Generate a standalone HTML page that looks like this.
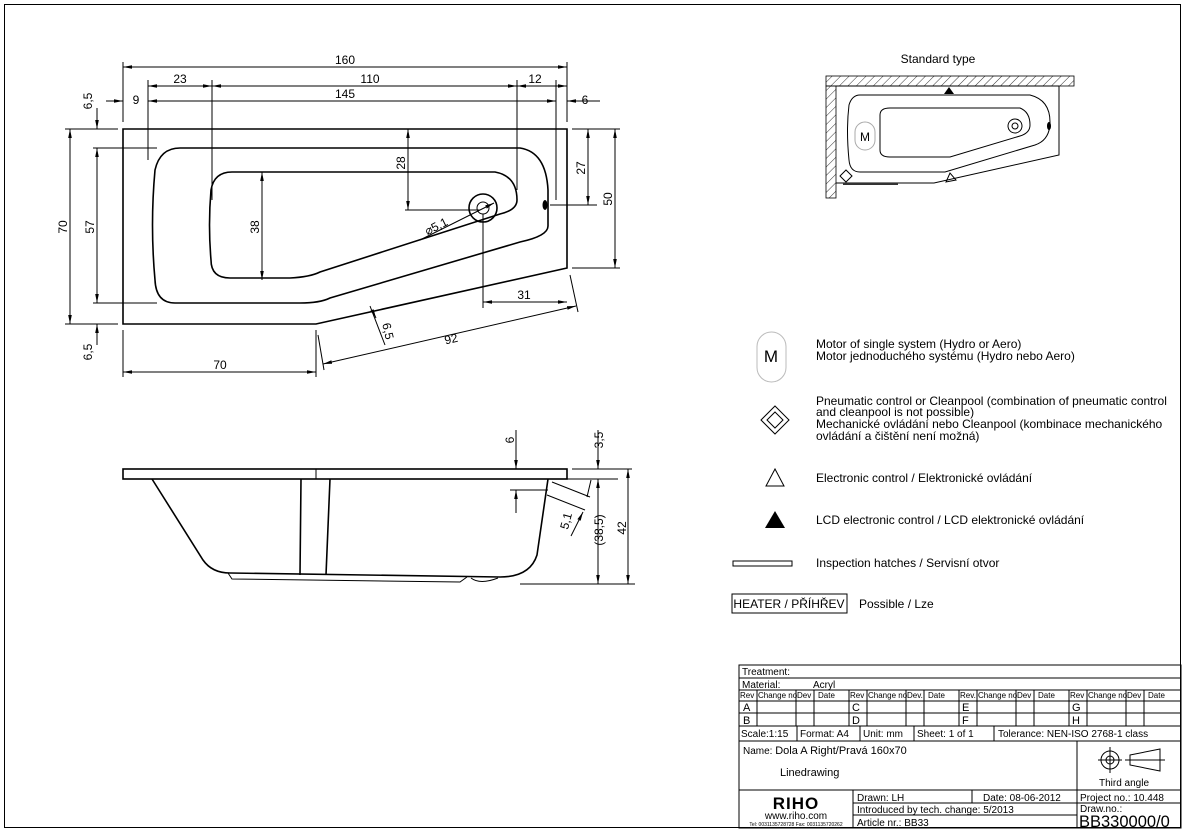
<!DOCTYPE html>
<html><head><meta charset="utf-8"><style>
html,body{margin:0;padding:0;background:#fff}
svg{display:block;font-family:"Liberation Sans",Arial,sans-serif}
.t{font-size:12px;fill:#000}
.k{stroke:#000;fill:none;stroke-width:1}
.b{stroke:#000;fill:none;stroke-width:1.6}
</style></head><body>
<svg width="1185" height="831" viewBox="0 0 1185 831" xmlns="http://www.w3.org/2000/svg">
<defs>
<marker id="a" viewBox="0 0 10 10" refX="10" refY="5" markerWidth="9" markerHeight="9" orient="auto-start-reverse"><path d="M0,3 L10,5 L0,7z" fill="#000"/></marker>
<pattern id="h" width="6" height="6" patternUnits="userSpaceOnUse" patternTransform="rotate(45)"><line x1="0" y1="0" x2="0" y2="6" stroke="#000" stroke-width="0.8"/></pattern>
</defs>
<rect x="4.5" y="4.5" width="1176" height="823" class="k"/>

<!-- TOP VIEW -->
<path class="b" d="M123,129 H567 V268 L316,324 H123 Z"/>
<path class="b" d="M180,148 H520 Q546,152 548,190 V226 Q548,236 520,242 L330,298 Q320,303 300,303 H175 Q156,303 155,280 Q150,225 155,170 Q160,148 180,148 Z"/>
<path class="b" d="M232,172 H495 Q517,176 517,200 Q517,210 500,214 L320,272 Q310,277 290,278 H230 Q211,278 211,260 Q208,225 211,190 Q214,172 232,172 Z"/>
<circle cx="483" cy="208" r="14" class="b"/><circle cx="483" cy="208" r="6" class="k"/>
<ellipse cx="545" cy="205" rx="2.5" ry="5" fill="#000"/>
<g class="k">
<line x1="123" y1="62" x2="123" y2="122"/><line x1="567" y1="62" x2="567" y2="122"/>
<line x1="123" y1="67" x2="567" y2="67" marker-start="url(#a)" marker-end="url(#a)"/>
<line x1="148" y1="80" x2="148" y2="160"/><line x1="212" y1="80" x2="212" y2="200"/><line x1="517" y1="80" x2="517" y2="190"/><line x1="556" y1="80" x2="556" y2="200"/>
<line x1="148" y1="86" x2="212" y2="86" marker-start="url(#a)" marker-end="url(#a)"/>
<line x1="212" y1="86" x2="517" y2="86" marker-start="url(#a)" marker-end="url(#a)"/>
<line x1="517" y1="86" x2="567" y2="86" marker-start="url(#a)" marker-end="url(#a)"/>
<line x1="148" y1="101" x2="556" y2="101" marker-start="url(#a)" marker-end="url(#a)"/>
<line x1="106" y1="101" x2="123" y2="101" marker-end="url(#a)"/><line x1="580" y1="101" x2="567" y2="101" marker-end="url(#a)"/><line x1="567" y1="101" x2="600" y2="101"/>
<line x1="65" y1="129" x2="118" y2="129"/><line x1="65" y1="324" x2="118" y2="324"/>
<line x1="93" y1="148" x2="157" y2="148"/><line x1="93" y1="303" x2="157" y2="303"/>
<line x1="70" y1="129" x2="70" y2="324" marker-start="url(#a)" marker-end="url(#a)"/>
<line x1="97" y1="148" x2="97" y2="303" marker-start="url(#a)" marker-end="url(#a)"/>
<line x1="97" y1="108" x2="97" y2="129" marker-end="url(#a)"/><line x1="97" y1="345" x2="97" y2="324" marker-end="url(#a)"/>
<line x1="408" y1="129" x2="408" y2="210" marker-start="url(#a)" marker-end="url(#a)"/><line x1="405" y1="210" x2="480" y2="210"/>
<line x1="262" y1="172" x2="262" y2="280" marker-start="url(#a)" marker-end="url(#a)"/>
<line x1="572" y1="129" x2="620" y2="129"/><line x1="572" y1="268" x2="620" y2="268"/><line x1="550" y1="205" x2="597" y2="205"/>
<line x1="588" y1="129" x2="588" y2="205" marker-start="url(#a)" marker-end="url(#a)"/>
<line x1="615" y1="129" x2="615" y2="268" marker-start="url(#a)" marker-end="url(#a)"/>
<line x1="483" y1="214" x2="483" y2="308"/>
<line x1="483" y1="302" x2="567" y2="302" marker-start="url(#a)" marker-end="url(#a)"/>
<line x1="123" y1="330" x2="123" y2="377"/><line x1="316" y1="330" x2="316" y2="377"/>
<line x1="123" y1="372" x2="316" y2="372" marker-start="url(#a)" marker-end="url(#a)"/>
<line x1="318" y1="335" x2="324" y2="370"/><line x1="570" y1="275" x2="578" y2="312"/>
<line x1="323" y1="364" x2="576" y2="306" marker-start="url(#a)" marker-end="url(#a)"/>
<line x1="370" y1="306" x2="385" y2="345"/>
<line x1="372" y1="310" x2="376" y2="318" marker-end="url(#a)"/>
<line x1="420" y1="240" x2="494" y2="203" marker-end="url(#a)"/>
</g>
<g class="t" text-anchor="middle">
<text x="345" y="64">160</text><text x="180" y="83">23</text><text x="370" y="83">110</text><text x="535" y="83">12</text>
<text x="345" y="98">145</text><text x="136" y="104">9</text><text x="585" y="104">6</text>
<text x="220" y="369">70</text><text x="524" y="299">31</text>
<text transform="translate(92,101) rotate(-90)">6,5</text><text transform="translate(92,352) rotate(-90)">6,5</text>
<text transform="translate(67,227) rotate(-90)">70</text><text transform="translate(94,227) rotate(-90)">57</text>
<text transform="translate(405,163) rotate(-90)">28</text><text transform="translate(259,227) rotate(-90)">38</text>
<text transform="translate(585,168) rotate(-90)">27</text><text transform="translate(612,199) rotate(-90)">50</text>
<text transform="translate(452,343) rotate(-13)">92</text>
<text transform="translate(384,332) rotate(77)">6,5</text>
<text transform="translate(438,230) rotate(-27)">⌀5,1</text>
</g>

<!-- SIDE VIEW -->
<rect x="123" y="469" width="444" height="10" class="b"/><line x1="316" y1="469" x2="316" y2="479" class="k"/>
<path class="b" d="M152,479 L203,560 Q212,573 230,573 L500,577 Q530,577 537,555 L548,479"/>
<path class="b" d="M301,479 L300,575 M330,479 L326,575"/>
<path class="k" d="M228,573 L232,579 L460,582 L467,577"/>
<path class="k" d="M471,578 Q480,585 498,578"/>
<g class="k">
<line x1="516" y1="430" x2="516" y2="469" marker-end="url(#a)"/><line x1="516" y1="513" x2="516" y2="490" marker-end="url(#a)"/><line x1="510" y1="490" x2="548" y2="490"/>
<line x1="572" y1="469" x2="632" y2="469"/><line x1="560" y1="479" x2="618" y2="479"/><line x1="520" y1="584" x2="635" y2="584"/>
<line x1="598" y1="430" x2="598" y2="469" marker-end="url(#a)"/><line x1="598" y1="479" x2="598" y2="584" marker-start="url(#a)" marker-end="url(#a)"/>
<line x1="628" y1="469" x2="628" y2="584" marker-start="url(#a)" marker-end="url(#a)"/>
<line x1="552" y1="482" x2="590" y2="497"/><line x1="547" y1="495" x2="585" y2="510"/>
<line x1="591" y1="480" x2="587" y2="497" /><line x1="571" y1="536" x2="583" y2="512" marker-end="url(#a)"/>
</g>
<g class="t" text-anchor="middle">
<text transform="translate(514,440) rotate(-90)">6</text><text transform="translate(603,440) rotate(-90)">3,5</text>
<text transform="translate(603,530) rotate(-90)">(38,5)</text><text transform="translate(626,528) rotate(-90)">42</text>
<text transform="translate(570,522) rotate(-75)">5,1</text>
</g>

<!-- STANDARD TYPE -->
<text x="938" y="63" class="t" text-anchor="middle">Standard type</text>
<rect x="826" y="76" width="248" height="10" fill="url(#h)" stroke="#000" stroke-width="0.8"/>
<rect x="826" y="86" width="10" height="112" fill="url(#h)" stroke="#000" stroke-width="0.8"/>
<path class="k" d="M836,86 H1059 V155 L934,183 H836"/>
<path class="k" d="M860,95 H1030 Q1050,100 1050,122 Q1050,140 1035,145 L945,172 H860 Q850,172 849,160 Q846,130 849,105 Q852,95 860,95 Z"/>
<path class="k" d="M890,108 H1020 Q1030,112 1030,125 Q1030,133 1020,136 L950,157 H890 Q880,157 880,150 V115 Q880,108 890,108 Z"/>
<circle cx="1015" cy="126" r="7" class="k"/><circle cx="1015" cy="126" r="3" class="k"/>
<ellipse cx="1049" cy="126" rx="2" ry="4" fill="#000"/>
<rect x="855" y="122" width="20" height="28" rx="10" fill="none" stroke="#aaa"/><text x="865" y="141" class="t" text-anchor="middle">M</text>
<path d="M944,94 L949,87 L954,94z" fill="#000"/>
<path d="M946,182 L950,173 L956,180z" class="k" stroke-width="0.8"/>
<path d="M846,170 L852,176 L846,182 L840,176z" class="k"/>
<line x1="843" y1="184" x2="898" y2="184" stroke="#333" stroke-width="2"/>

<!-- LEGEND -->
<rect x="757" y="332" width="29" height="50" rx="14.5" fill="none" stroke="#bbb"/>
<text x="771" y="362" font-size="17" text-anchor="middle">M</text>
<g class="t"><text x="816" y="348">Motor of single system (Hydro or Aero)</text><text x="816" y="360">Motor jednoduchého systému (Hydro nebo Aero)</text>
<text x="816" y="405">Pneumatic control or Cleanpool (combination of pneumatic control</text>
<text x="816" y="416">and cleanpool is not possible)</text>
<text x="816" y="428">Mechanické ovládání nebo Cleanpool (kombinace mechanického</text>
<text x="816" y="440">ovládání a čištění není možná)</text>
<text x="816" y="482">Electronic control / Elektronické ovládání</text>
<text x="816" y="524">LCD electronic control / LCD elektronické ovládání</text>
<text x="816" y="567">Inspection hatches / Servisní otvor</text>
<text x="859" y="608">Possible / Lze</text></g>
<path class="k" d="M775,406 L789,420 L775,434 L761,420z M775,412 L783,420 L775,428 L767,420z"/>
<path class="k" d="M775,469 L766,486 L784,486z"/>
<path d="M775,511 L765,528 L785,528z" fill="#000"/>
<rect x="733" y="561" width="59" height="5" class="k"/>
<rect x="732" y="594" width="115" height="19" class="k"/><text x="789" y="608" class="t" text-anchor="middle">HEATER / PŘÍHŘEV</text>

<!-- TITLE BLOCK -->
<g class="k">
<rect x="739" y="665" width="442" height="163"/>
<line x1="739" y1="678" x2="1181" y2="678"/><line x1="739" y1="690" x2="1181" y2="690"/>
<line x1="739" y1="701" x2="1181" y2="701"/><line x1="739" y1="713" x2="1181" y2="713"/>
<line x1="739" y1="726" x2="1181" y2="726"/><line x1="739" y1="741" x2="1181" y2="741"/>
<line x1="739" y1="790" x2="1181" y2="790"/>
<line x1="1077" y1="741" x2="1077" y2="828"/>
<line x1="853" y1="790" x2="853" y2="828"/><line x1="853" y1="803" x2="1077" y2="803"/><line x1="853" y1="815" x2="1077" y2="815"/>
<line x1="972" y1="790" x2="972" y2="803"/><line x1="1077" y1="803" x2="1181" y2="803"/>
<line x1="797" y1="726" x2="797" y2="741"/><line x1="860" y1="726" x2="860" y2="741"/><line x1="914" y1="726" x2="914" y2="741"/><line x1="994" y1="726" x2="994" y2="741"/>
</g>
<g class="k" stroke-width="0.8">
<path d="M757,690V726M796,690V726M814,690V726M849,690V726M867,690V726M906,690V726M924,690V726M959,690V726M977,690V726M1016,690V726M1034,690V726M1069,690V726M1087,690V726M1126,690V726M1144,690V726"/>
</g>
<g font-size="8" fill="#000">
<text x="740" y="698">Rev</text><text x="758" y="698">Change no</text><text x="797" y="698">Dev</text><text x="818" y="698">Date</text>
<text x="850" y="698">Rev</text><text x="868" y="698">Change no</text><text x="907" y="698">Dev.</text><text x="928" y="698">Date</text>
<text x="960" y="698">Rev.</text><text x="978" y="698">Change no</text><text x="1017" y="698">Dev</text><text x="1038" y="698">Date</text>
<text x="1070" y="698">Rev</text><text x="1088" y="698">Change no</text><text x="1127" y="698">Dev</text><text x="1148" y="698">Date</text>
</g>
<g font-size="11" fill="#000">
<text x="743" y="711">A</text><text x="743" y="724">B</text><text x="852" y="711">C</text><text x="852" y="724">D</text>
<text x="962" y="711">E</text><text x="962" y="724">F</text><text x="1072" y="711">G</text><text x="1072" y="724">H</text>
</g>
<g font-size="10" fill="#000">
<text x="742" y="675">Treatment:</text><text x="742" y="688">Material:</text><text x="813" y="688">Acryl</text>
<text x="741" y="737">Scale:1:15</text><text x="800" y="737">Format: A4</text><text x="863" y="737">Unit: mm</text>
<text x="917" y="737">Sheet:  1  of  1</text><text x="998" y="737">Tolerance:  NEN-ISO 2768-1 class</text>
<text x="743" y="754">Name: <tspan font-size="11">Dola A Right/Pravá 160x70</tspan></text>
<text x="780" y="776" font-size="11">Linedrawing</text>
<text x="1099" y="786">Third angle</text>
<text x="857" y="801">Drawn: LH</text><text x="983" y="801">Date:  08-06-2012</text>
<text x="857" y="813">Introduced by tech. change:  5/2013</text>
<text x="857" y="826">Article nr.:   BB33</text>
<text x="1080" y="801">Project no.: 10.448</text><text x="1080" y="812">Draw.no.:</text>
</g>
<text x="1079" y="827" font-size="16.5" fill="#000">BB330000/0</text>
<text x="796" y="809" font-size="17" font-weight="bold" text-anchor="middle" letter-spacing="1">RIHO</text>
<text x="796" y="819" font-size="10" text-anchor="middle">www.riho.com</text>
<text x="796" y="826" font-size="5" text-anchor="middle">Tel: 0031135728728  Fax: 0031135720262</text>
<g class="k" stroke-width="0.8">
<circle cx="1110" cy="760" r="9"/><circle cx="1110" cy="760" r="4"/>
<line x1="1098" y1="760" x2="1122" y2="760"/><line x1="1110" y1="747" x2="1110" y2="773"/>
<path d="M1130,755 L1160,749 V771 L1130,765 Z"/><line x1="1125" y1="760" x2="1165" y2="760"/>
</g>
</svg>
</body></html>
